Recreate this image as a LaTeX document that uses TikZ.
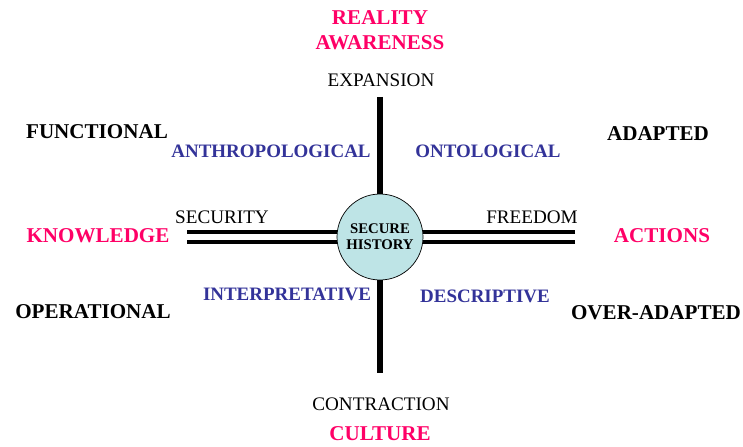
\documentclass[tikz,border=0pt]{standalone}
\usepackage{fontspec}
\setmainfont{Liberation Serif}[BoldFont={Liberation Serif Bold}]
\usepackage{tikz}

\definecolor{rosy}{RGB}{255,0,102}
\definecolor{indigo}{RGB}{51,51,153}
\definecolor{hubfill}{RGB}{190,228,230}

\begin{document}
\begin{tikzpicture}[x=0.02cm,y=-0.02cm,
    corner/.style={anchor=base,inner sep=0pt,font=\fontsize{12}{14}\selectfont\bfseries},
    pole/.style={corner,text=rosy},
    quad/.style={anchor=base,inner sep=0pt,text=indigo,font=\fontsize{10.8}{13}\selectfont\bfseries},
    axis/.style={anchor=base,inner sep=0pt,font=\fontsize{10.9}{13}\selectfont},
    hub/.style={circle,draw,fill=hubfill,minimum size=1.72cm,inner sep=0pt,align=center,
      font=\fontsize{8.4}{10}\selectfont\bfseries},
    mast/.style={line width=3.4pt},
    rail/.style={line width=2.3pt}]
  \useasboundingbox (0,0) rectangle (743,446);

  % centre
  \node[hub] (hist) at (380,237) {SECURE\\[-1pt]HISTORY};

  % axes
  \coordinate (up) at (380,97);
  \coordinate (down) at (380,373);
  \coordinate (lt) at (187,232);
  \coordinate (lb) at (187,242);
  \coordinate (rt) at (575,232);
  \coordinate (rb) at (575,242);
  \draw[mast] (up) -- (hist.north);
  \draw[mast] (hist.south) -- (down);
  \draw[rail] (lt) -- (lt -| hist.west);
  \draw[rail] (lb) -- (lb -| hist.west);
  \draw[rail] (rt) -- (rt -| hist.east);
  \draw[rail] (rb) -- (rb -| hist.east);

  % poles
  \node[pole] (real) at (380,25) {REALITY};
  \node[pole] (aware) at (380,50) {AWARENESS};
  \node[pole] (cult) at (380,440) {CULTURE};
  \node[pole] (know) at (98,242) {KNOWLEDGE};
  \node[pole] (act) at (662,242) {ACTIONS};

  % axis ends
  \node[axis] (exp) at (381,87) {EXPANSION};
  \node[axis] (con) at (381,410) {CONTRACTION};
  \node[axis] (sec) at (222,223) {SECURITY};
  \node[axis] (free) at (532,223) {FREEDOM};

  % quadrants
  \node[quad] (anth) at (271,157) {ANTHROPOLOGICAL};
  \node[quad] (onto) at (488,157) {ONTOLOGICAL};
  \node[quad] (inter) at (287,300) {INTERPRETATIVE};
  \node[quad] (desc) at (485,302) {DESCRIPTIVE};

  % corners
  \node[corner] (func) at (97,138) {FUNCTIONAL};
  \node[corner] (adap) at (658,140) {ADAPTED};
  \node[corner] (oper) at (93,318) {OPERATIONAL};
  \node[corner] (over) at (656,319) {OVER-ADAPTED};
\end{tikzpicture}
\end{document}
